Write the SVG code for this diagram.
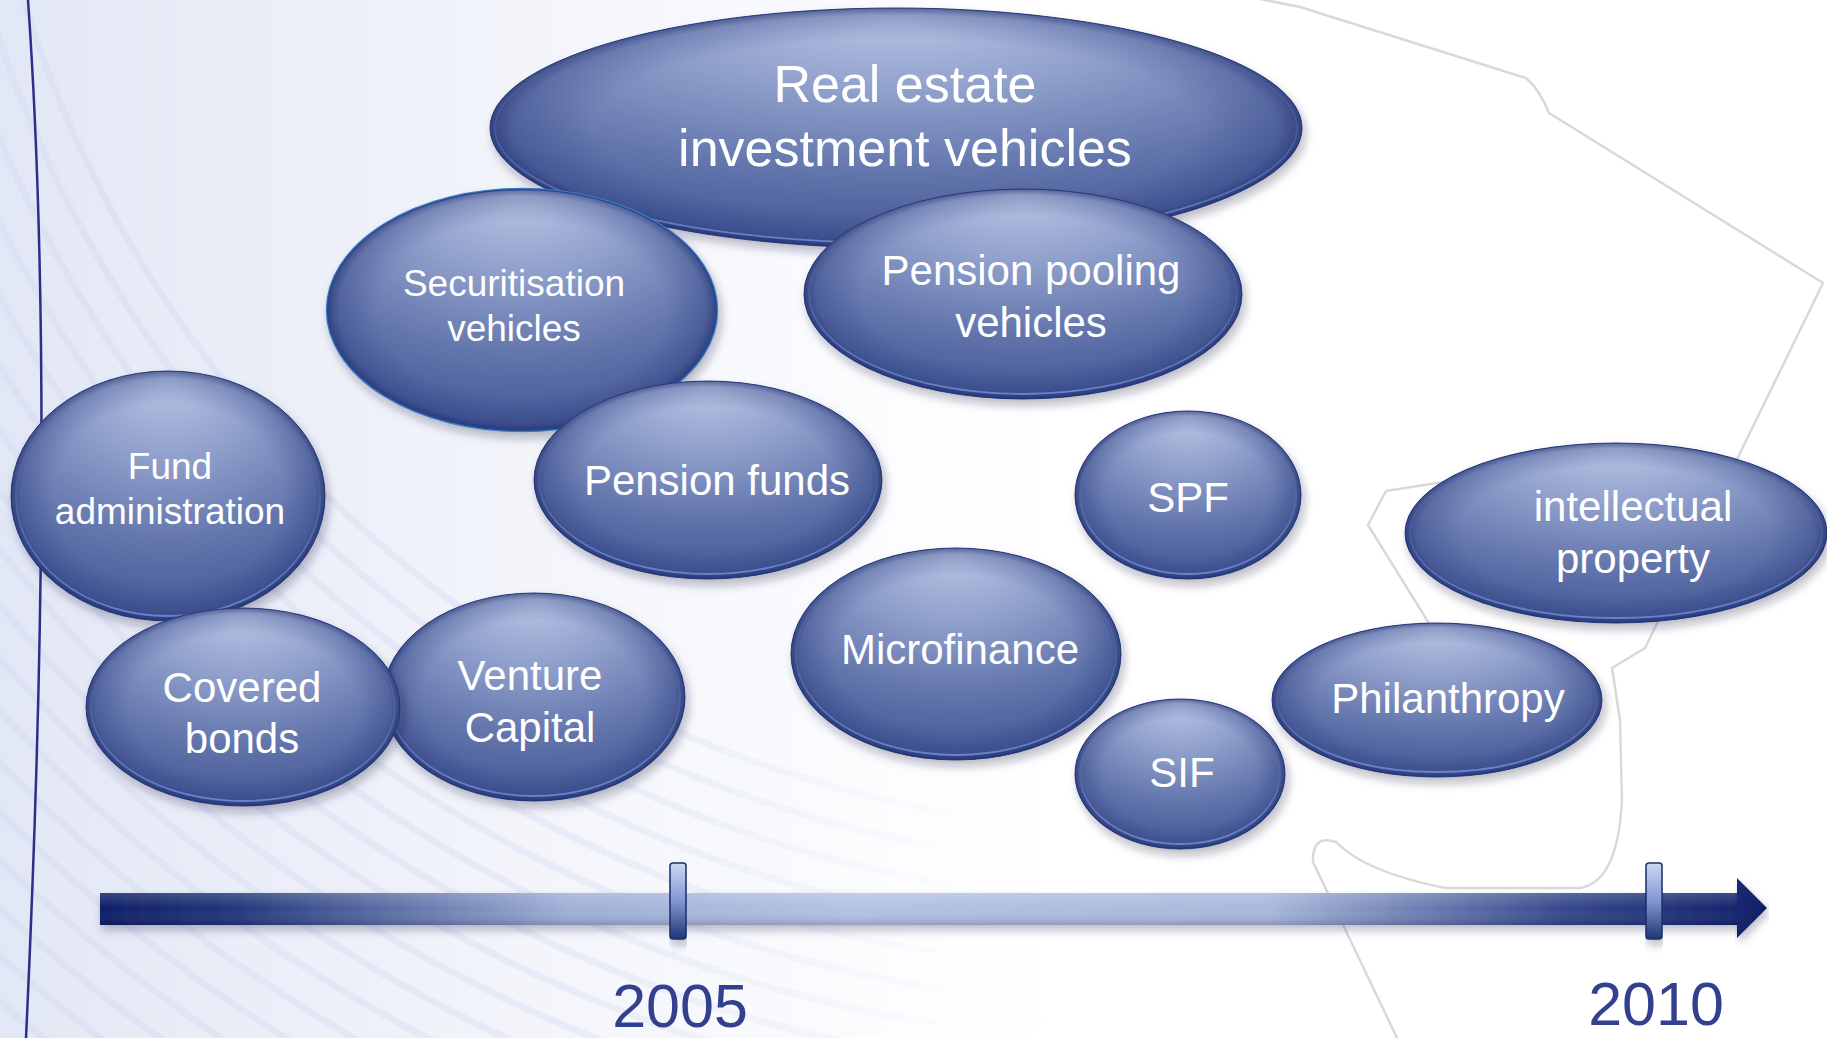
<svg xmlns="http://www.w3.org/2000/svg" width="1827" height="1038" viewBox="0 0 1827 1038">
<defs>
<style>
.body{fill:url(#gBody);stroke:#2d4082;stroke-width:1;filter:url(#sh)}
.edge{fill:url(#gEdge);stroke:none}
.glint{fill:none;stroke:url(#gGlint);stroke-width:1.8}
.t{font-family:"Liberation Sans",Arial,sans-serif;fill:#ffffff;text-anchor:middle;font-size:42px}
.t.big{font-size:52px}
.t.mid{font-size:37px}
.yr{font-family:"Liberation Sans",Arial,sans-serif;fill:#333f8f;text-anchor:middle;font-size:61px}
.map{fill:none;stroke:#d9d9d9;stroke-width:2.5;stroke-linejoin:round}
.swirl circle{fill:none;stroke:#cdd5ee;stroke-width:7;opacity:0.3}
</style>
<radialGradient id="gBody" cx="0.5" cy="0.1" r="1" fx="0.5" fy="0.04">
<stop offset="0" stop-color="#b6c3e3"/>
<stop offset="0.3" stop-color="#8f9fcb"/>
<stop offset="0.62" stop-color="#6174ab"/>
<stop offset="1" stop-color="#394c8d"/>
</radialGradient>
<radialGradient id="gEdge" cx="0.5" cy="0.5" r="0.5">
<stop offset="0.74" stop-color="#1a2a70" stop-opacity="0"/>
<stop offset="0.94" stop-color="#1a2a70" stop-opacity="0.25"/>
<stop offset="1" stop-color="#0f1c5e" stop-opacity="0.55"/>
</radialGradient>
<linearGradient id="gGlint" x1="0" y1="0" x2="0" y2="1">
<stop offset="0" stop-color="#8aa6e6" stop-opacity="0"/>
<stop offset="0.5" stop-color="#8aa6e6" stop-opacity="0.15"/>
<stop offset="1" stop-color="#7d9ce4" stop-opacity="0.7"/>
</linearGradient>
<filter id="sh" x="-10%" y="-10%" width="125%" height="135%">
<feDropShadow dx="3" dy="6" stdDeviation="5" flood-color="#1a2040" flood-opacity="0.3"/>
</filter>
<filter id="sh2" x="-5%" y="-50%" width="110%" height="250%">
<feDropShadow dx="2" dy="5" stdDeviation="4" flood-color="#1a2040" flood-opacity="0.3"/>
</filter>
<linearGradient id="bgTint" x1="0" y1="0" x2="1" y2="0">
<stop offset="0" stop-color="#e2e7f5" stop-opacity="1"/>
<stop offset="0.2" stop-color="#ebeef8" stop-opacity="0.85"/>
<stop offset="0.45" stop-color="#f3f5fb" stop-opacity="0.45"/>
<stop offset="0.6" stop-color="#ffffff" stop-opacity="0"/>
</linearGradient>
<linearGradient id="fadeG" x1="0" y1="0" x2="1" y2="0">
<stop offset="0" stop-color="#fff"/>
<stop offset="0.3" stop-color="#fff"/>
<stop offset="0.55" stop-color="#000"/>
</linearGradient>
<mask id="fadeM" maskUnits="userSpaceOnUse" x="0" y="0" width="1827" height="1038">
<rect width="1827" height="1038" fill="url(#fadeG)"/>
</mask>
<linearGradient id="gBar" x1="100" y1="0" x2="1767" y2="0" gradientUnits="userSpaceOnUse">
<stop offset="0" stop-color="#0e1d66"/>
<stop offset="0.08" stop-color="#213679"/>
<stop offset="0.28" stop-color="#9fafd7"/>
<stop offset="0.45" stop-color="#b4c2e2"/>
<stop offset="0.7" stop-color="#a9b8dc"/>
<stop offset="0.88" stop-color="#34478a"/>
<stop offset="1" stop-color="#0e1d66"/>
</linearGradient>
<linearGradient id="gBarV" x1="0" y1="0" x2="0" y2="1">
<stop offset="0" stop-color="#ffffff" stop-opacity="0.18"/>
<stop offset="0.5" stop-color="#ffffff" stop-opacity="0"/>
<stop offset="1" stop-color="#000030" stop-opacity="0.18"/>
</linearGradient>
<linearGradient id="gTick" x1="0" y1="0" x2="0" y2="1">
<stop offset="0" stop-color="#cbd8f4"/>
<stop offset="0.5" stop-color="#8198d0"/>
<stop offset="1" stop-color="#1f3676"/>
</linearGradient>
<linearGradient id="gHead" x1="0" y1="0" x2="1" y2="1">
<stop offset="0" stop-color="#1a2d78"/>
<stop offset="1" stop-color="#0c1a5e"/>
</linearGradient>
</defs>

<g id="background">
<rect width="1827" height="1038" fill="#ffffff"/>
<rect width="1827" height="1038" fill="url(#bgTint)"/>
<g class="swirl" mask="url(#fadeM)">
<circle cx="1150" cy="-350" r="1180"/>
<circle cx="1150" cy="-350" r="1215"/>
<circle cx="1150" cy="-350" r="1250"/>
<circle cx="1150" cy="-350" r="1285"/>
<circle cx="1150" cy="-350" r="1320"/>
<circle cx="1150" cy="-350" r="1355"/>
<circle cx="1150" cy="-350" r="1390"/>
<circle cx="1150" cy="-350" r="1425"/>
<circle cx="1150" cy="-350" r="1460"/>
<circle cx="1150" cy="-350" r="1495"/>
<circle cx="1150" cy="-350" r="1530"/>
<circle cx="1150" cy="-350" r="1565"/>
<circle cx="1150" cy="-350" r="1600"/>
<circle cx="1150" cy="-350" r="1635"/>
<circle cx="1150" cy="-350" r="1670"/>
<circle cx="1150" cy="-350" r="1705"/>
<circle cx="1150" cy="-350" r="1740"/>
<circle cx="1150" cy="-350" r="1775"/>
<circle cx="1150" cy="-350" r="1810"/>
<circle cx="1150" cy="-350" r="1845"/>
<circle cx="1150" cy="-350" r="1880"/>
</g>
<path class="map" d="M1250,-3 L1300,7 L1526,78 Q1540,90 1549,113 L1823,283 L1645,648 L1612,668 L1620,720 L1622,800 Q1618,882 1580,888 L1445,888 Q1365,872 1336,842 Q1312,834 1313,862 L1398,1040"/>
<path class="map" d="M1500,480 L1437,483 L1386,491 L1368,525 L1430,625 L1500,660"/>
<path d="M28,0 Q56,400 26,1038" fill="none" stroke="#2b2f8a" stroke-width="2.5"/>
</g>

<g id="connectors">
<g id="timeline">
<rect x="100" y="893" width="1640" height="32" fill="url(#gBar)" filter="url(#sh2)"/>
<rect x="100" y="893" width="1640" height="32" fill="url(#gBarV)"/>
<polygon points="1737,878 1767,908 1737,938" fill="url(#gHead)" filter="url(#sh2)"/>
<rect x="670" y="863" width="16" height="76" rx="3" fill="url(#gTick)" stroke="#1e2f6e" stroke-width="1.5" filter="url(#sh2)"/>
<rect x="1646" y="863" width="16" height="76" rx="3" fill="url(#gTick)" stroke="#1e2f6e" stroke-width="1.5" filter="url(#sh2)"/>
</g>
</g>

<g id="real-estate">
<ellipse class="body" cx="896" cy="128" rx="406" ry="120"/>
<ellipse class="edge" cx="896" cy="128" rx="406" ry="120"/>
<ellipse class="glint" cx="896" cy="128" rx="401" ry="115"/>
<text class="t big" x="905" y="102">Real estate</text>
<text class="t big" x="905" y="166">investment vehicles</text>
</g>

<g id="securitisation">
<ellipse class="body" cx="522" cy="310" rx="195" ry="121" style="stroke:#3c78c0;stroke-width:2.5"/>
<ellipse class="edge" cx="522" cy="310" rx="195" ry="121"/>
<text class="t mid" x="514" y="296">Securitisation</text>
<text class="t mid" x="514" y="341">vehicles</text>
</g>

<g id="pension-pooling">
<ellipse class="body" cx="1023" cy="294" rx="219" ry="105"/>
<ellipse class="edge" cx="1023" cy="294" rx="219" ry="105"/>
<ellipse class="glint" cx="1023" cy="294" rx="214" ry="100"/>
<text class="t" x="1031" y="285">Pension pooling</text>
<text class="t" x="1031" y="337">vehicles</text>
</g>

<g id="fund-administration">
<ellipse class="body" cx="168" cy="496" rx="157" ry="125"/>
<ellipse class="edge" cx="168" cy="496" rx="157" ry="125"/>
<ellipse class="glint" cx="168" cy="496" rx="152" ry="120"/>
<text class="t mid" x="170" y="479">Fund</text>
<text class="t mid" x="170" y="524">administration</text>
</g>

<g id="pension-funds">
<ellipse class="body" cx="708" cy="480" rx="174" ry="99"/>
<ellipse class="edge" cx="708" cy="480" rx="174" ry="99"/>
<ellipse class="glint" cx="708" cy="480" rx="169" ry="94"/>
<text class="t" x="717" y="495">Pension funds</text>
</g>

<g id="spf">
<ellipse class="body" cx="1188" cy="495" rx="113" ry="84"/>
<ellipse class="edge" cx="1188" cy="495" rx="113" ry="84"/>
<ellipse class="glint" cx="1188" cy="495" rx="108" ry="79"/>
<text class="t" x="1188" y="512">SPF</text>
</g>

<g id="intellectual-property">
<ellipse class="body" cx="1616" cy="533" rx="211" ry="90"/>
<ellipse class="edge" cx="1616" cy="533" rx="211" ry="90"/>
<ellipse class="glint" cx="1616" cy="533" rx="206" ry="85"/>
<text class="t" x="1633" y="521">intellectual</text>
<text class="t" x="1633" y="573">property</text>
</g>

<g id="venture-capital">
<ellipse class="body" cx="534" cy="697" rx="151" ry="104"/>
<ellipse class="edge" cx="534" cy="697" rx="151" ry="104"/>
<ellipse class="glint" cx="534" cy="697" rx="146" ry="99"/>
<text class="t" x="530" y="690">Venture</text>
<text class="t" x="530" y="742">Capital</text>
</g>

<g id="covered-bonds">
<ellipse class="body" cx="243" cy="707" rx="157" ry="99"/>
<ellipse class="edge" cx="243" cy="707" rx="157" ry="99"/>
<ellipse class="glint" cx="243" cy="707" rx="152" ry="94"/>
<text class="t" x="242" y="702">Covered</text>
<text class="t" x="242" y="753">bonds</text>
</g>

<g id="microfinance">
<ellipse class="body" cx="956" cy="654" rx="165" ry="106"/>
<ellipse class="edge" cx="956" cy="654" rx="165" ry="106"/>
<ellipse class="glint" cx="956" cy="654" rx="160" ry="101"/>
<text class="t" x="960" y="664">Microfinance</text>
</g>

<g id="philanthropy">
<ellipse class="body" cx="1437" cy="700" rx="165" ry="77"/>
<ellipse class="edge" cx="1437" cy="700" rx="165" ry="77"/>
<ellipse class="glint" cx="1437" cy="700" rx="160" ry="72"/>
<text class="t" x="1448" y="713">Philanthropy</text>
</g>

<g id="sif">
<ellipse class="body" cx="1180" cy="774" rx="105" ry="75"/>
<ellipse class="edge" cx="1180" cy="774" rx="105" ry="75"/>
<ellipse class="glint" cx="1180" cy="774" rx="100" ry="70"/>
<text class="t" x="1182" y="787">SIF</text>
</g>

<g id="labels">
<text class="yr" x="680" y="1027">2005</text>
<text class="yr" x="1656" y="1025">2010</text>
</g>
</svg>
